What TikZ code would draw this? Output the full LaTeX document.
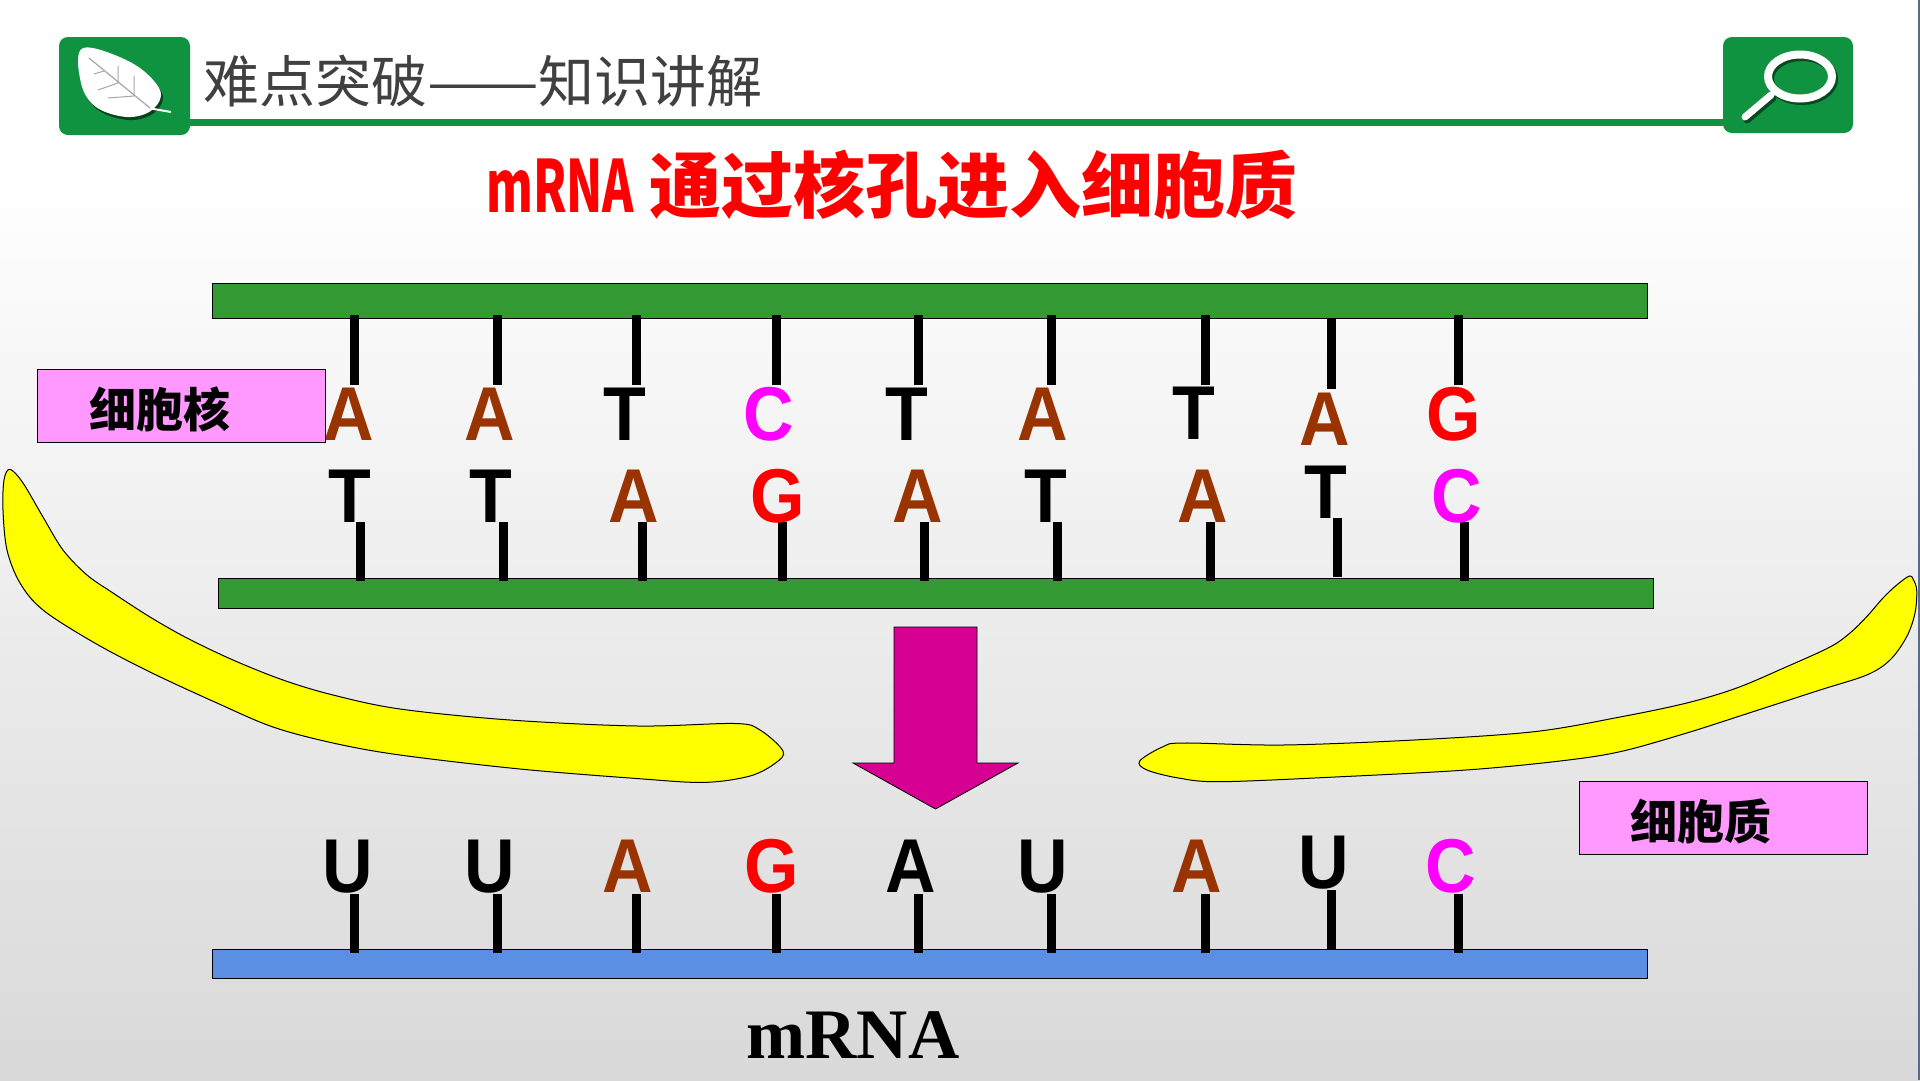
\documentclass[tikz,border=0pt]{standalone}
\usepackage{fontspec}
\usepackage{graphicx}
\usetikzlibrary{shadings}
\setmainfont{Liberation Sans}
\newfontfamily\cjk{Noto Sans CJK SC}
\newfontfamily\serifbold{Liberation Serif}
\definecolor{headgreen}{HTML}{0F9340}
\definecolor{strand}{HTML}{339933}
\definecolor{rnablue}{HTML}{5B8FE3}
\definecolor{basebrown}{HTML}{993300}
\definecolor{basepink}{HTML}{FF00FF}
\definecolor{basered}{RGB}{255,0,0}
\definecolor{labelpink}{HTML}{FF99FF}
\definecolor{arrowred}{HTML}{D60093}
\definecolor{headtext}{HTML}{404040}
\definecolor{membraneyellow}{RGB}{255,255,0}
\definecolor{pageedge}{HTML}{5A6B88}
\newcommand{\tallbase}[1]{\scalebox{1}[1.09]{#1}}
\tikzset{
  baseletter/.style={anchor=base,inner sep=0pt,font=\fontsize{70}{70}\selectfont\bfseries},
  bond/.style={draw=black,line width=9pt},
  strandbar/.style={draw=black,line width=0.9pt,fill=strand},
  tag/.style={draw=black,line width=0.9pt,fill=labelpink},
  tagtext/.style={inner sep=0pt,font=\cjk\fontsize{47}{47}\selectfont\bfseries},
  membrane/.style={draw=black,line width=1pt,fill=membraneyellow},
  iconbox/.style={fill=headgreen,rounded corners=9pt}
}
\begin{document}
\begin{tikzpicture}[x=1pt,y=-1pt]
\useasboundingbox (0,0) rectangle (1920,1080);
% page background
\fill[white] (0,0) rectangle (1920,175);
\shade[top color=white,bottom color=black!15] (0,175) rectangle (1920,1080);
\fill[pageedge] (1918,0) rectangle (1920,1080);

% header rule and icons
\fill[headgreen] (180,119) rectangle (1730,126);
\fill[iconbox] (59,37) rectangle (190,135);
\fill[iconbox] (1723,37) rectangle (1853,133);

% leaf
\fill[black!55!headgreen] plot[smooth cycle,tension=0.6] coordinates {(85,51) (134,66) (162,93) (154,113) (129,120) (98,110) (83,86)};
\fill[white] plot[smooth cycle,tension=0.6] coordinates {(83,48) (132,63) (160,90) (152,110) (127,117) (96,107) (81,83)};
\draw[white,line width=2pt] (148,108) -- (171,112);
\draw[black!35,line width=1.2pt] (89,58) -- (150,108);
\draw[black!35,line width=1pt] (104,71) -- (94,74) (118,83) -- (118,66) (118,83) -- (98,90) (134,96) -- (134,76) (134,96) -- (108,98);

% magnifier
\draw[black!50!headgreen,line width=8pt] (1802,79) ellipse (32 and 22);
\draw[black!50!headgreen,line width=7pt,line cap=round] (1773,98) -- (1747,120);
\draw[white,line width=8pt] (1800,76.5) ellipse (32 and 22);
\draw[white,line width=7pt,line cap=round] (1771,95) -- (1745,117);

% headings
\node[anchor=west,inner sep=0pt,text=headtext,font=\cjk\fontsize{56}{57}\selectfont] (heading) at (203,81) {难点突破\scalebox{1.19}[1]{——}知识讲解};
\node[anchor=base west,inner sep=0pt,text=basered,font=\cjk\fontsize{72}{72}\selectfont\bfseries] (title) at (486,212) {\scalebox{.66}[1]{mRNA}\hspace{15pt}通过核孔进入细胞质};

% DNA strands
\node[strandbar,inner sep=0pt,minimum width=1435pt,minimum height=35pt,anchor=north west] (upper) at (212,283) {};
\node[strandbar,inner sep=0pt,minimum width=1435pt,minimum height=30pt,anchor=north west] (lower) at (218,578) {};
\node[draw=black,line width=0.9pt,fill=rnablue,inner sep=0pt,minimum width=1435pt,minimum height=29pt,anchor=north west] (rna) at (212,949) {};

% bonds
\foreach \x in {354,497,636,776,918,1051,1205,1458}
  \draw[bond] (\x,315) -- (\x,385);
\draw[bond] (1331,319) -- (1331,389);
\foreach \x in {360,503,642,782,924,1057,1210,1464}
  \draw[bond] (\x,522) -- (\x,581);
\draw[bond] (1337,518) -- (1337,577);
\foreach \x in {354,497,636,776,918,1051,1205,1458}
  \draw[bond] (\x,894) -- (\x,953);
\draw[bond] (1331,890) -- (1331,949);

% template and coding bases
\foreach \x/\y/\b/\c [count=\i] in {
  349/440/A/basebrown,490/440/A/basebrown,625/440/T/black,769/440/C/basepink,
  907/440/T/black,1043/440/A/basebrown,1194/439/T/black,1325/445/A/basebrown,1454/440/G/basered}
  \node[baseletter,text=\c] (coding\i) at (\x,\y) {\tallbase{\b}};
\foreach \x/\y/\b/\c [count=\i] in {
  350/522/T/black,491/522/T/black,634/522/A/basebrown,778/522/G/basered,
  918/522/A/basebrown,1046/522/T/black,1203/522/A/basebrown,1326/518/T/black,1457/522/C/basepink}
  \node[baseletter,text=\c] (template\i) at (\x,\y) {\tallbase{\b}};
\foreach \x/\y/\b/\c [count=\i] in {
  348/892/U/black,490/892/U/black,628/892/A/basebrown,772/892/G/basered,
  911/892/A/black,1043/892/U/black,1197/892/A/basebrown,1324/888/U/black,1451/892/C/basepink}
  \node[baseletter,text=\c] (message\i) at (\x,\y) {\tallbase{\b}};

% compartment labels
\draw[tag] (37,369) rectangle (325.5,442);
\node[tagtext] (nucleus) at (160,409) {细胞核};
\draw[tag] (1579,781) rectangle (1867,854);
\node[tagtext] (cytoplasm) at (1701,821) {细胞质};

% nuclear envelope
\draw[membrane] plot[smooth cycle,tension=0.55] coordinates {
  (10,469.3) (23,483) (43,517) (63,550) (87,575) (113,593) (150,617) (187,638) (233,660) (283,680)
  (333,695) (400,709) (510,720) (638,726) (735,723.5) (760,730) (783,751) (775.5,763) (750,776)
  (704,782.4) (638,778.6) (520,769) (400,755) (333,743) (273,727) (217,703) (150,672) (93,642)
  (43,610) (20,583) (7,550) (3,510) (4,480)};
\draw[membrane] plot[smooth cycle,tension=0.55] coordinates {
  (1909.3,576) (1896.7,585) (1883,598) (1866.7,616.7) (1850,633) (1830,647) (1786.7,666.7) (1736.7,688)
  (1686.7,703) (1620,717) (1534,731.7) (1414,740) (1283,745) (1183.7,743) (1163,746.7) (1139.7,761)
  (1147,770) (1178.5,778) (1220,781.7) (1335,777) (1466,770) (1560,761) (1620,751.7) (1686.7,733)
  (1753,711.7) (1820,690) (1866.7,675) (1890,660) (1906.7,636.7) (1915,613) (1916.7,590) (1913,579)};

% transcription arrow
\draw[fill=arrowred,draw=black,line width=0.8pt] (894,627) -- (977,627) -- (977,763) -- (1018,763) -- (935.5,809) -- (853,763) -- (894,763) -- cycle;

% strand name
\node[anchor=base,inner sep=0pt,font=\serifbold\fontsize{71}{71}\selectfont\bfseries] (rnaname) at (853,1058) {mRNA};
\end{tikzpicture}
\end{document}
